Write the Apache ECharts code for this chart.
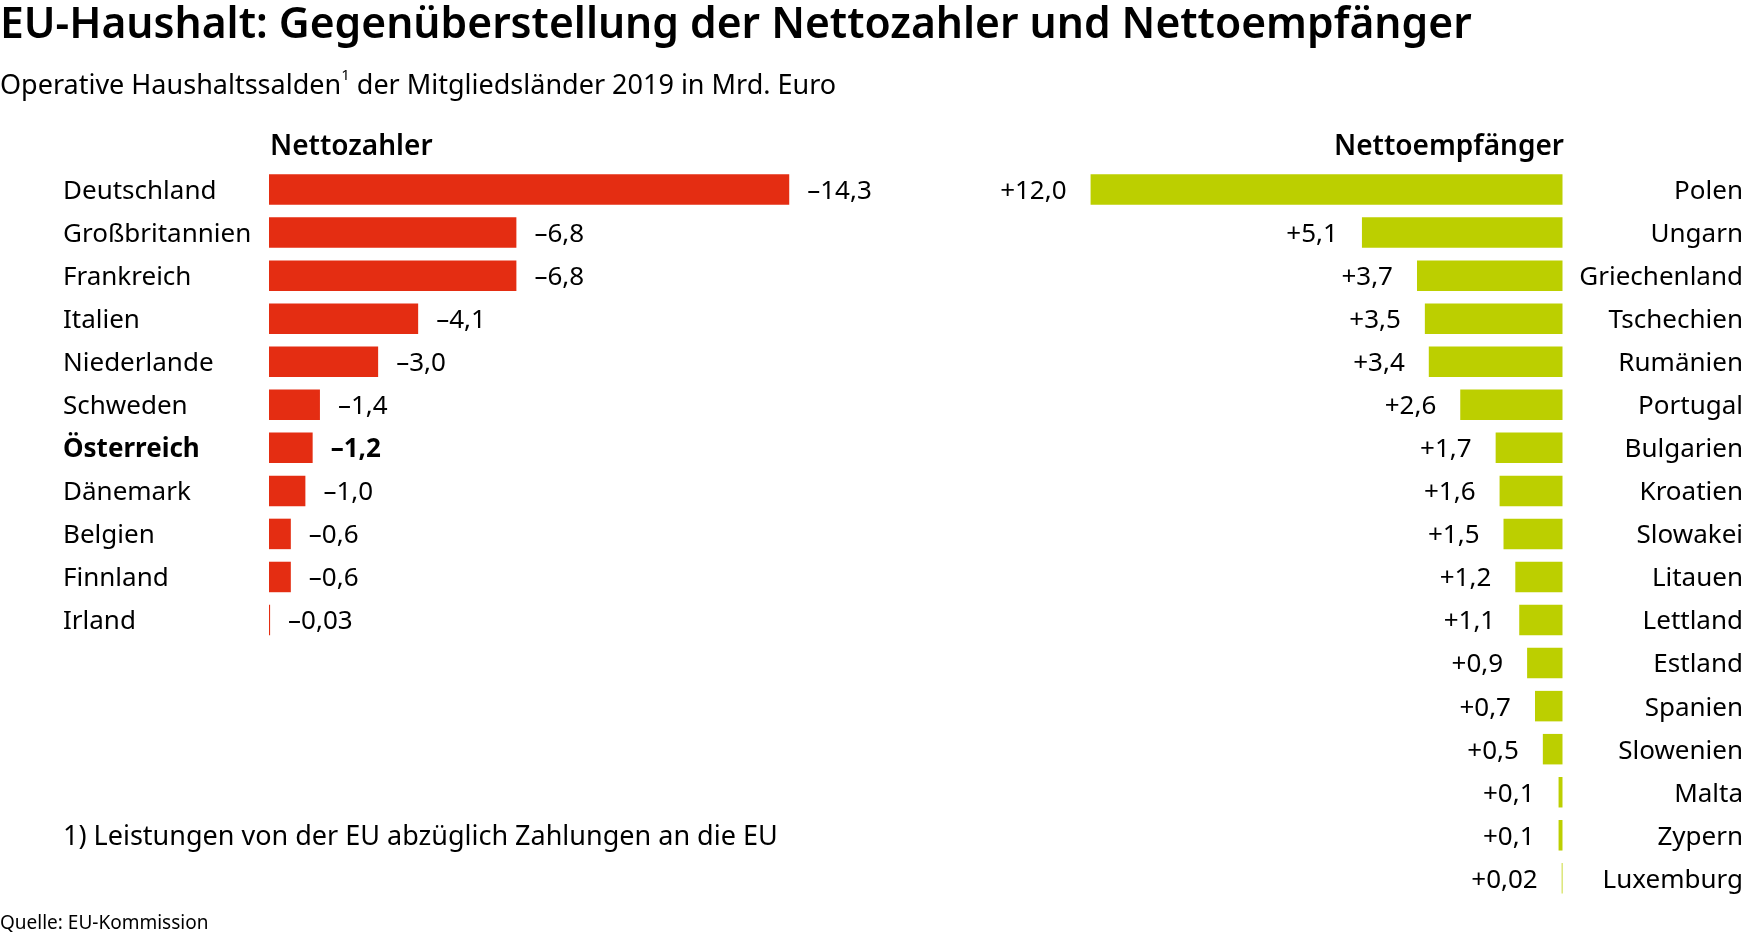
<!DOCTYPE html>
<html>
<head>
<meta charset="utf-8">
<script src="https://cdn.jsdelivr.net/npm/echarts@6/dist/echarts.min.js"></script>
<style>
html,body{margin:0;padding:0;background:#fff;}
#chart{width:1746px;height:938px;}
</style>
</head>
<body>
<div id="chart"></div>
<script>
const titleText = 'EU-Haushalt: Gegenüberstellung der Nettozahler und Nettoempfänger';
const subtitleMain = 'Operative Haushaltssalden';
const subtitleRest = ' der Mitgliedsländer 2019 in Mrd. Euro';
const headerLeft = 'Nettozahler';
const headerRight = 'Nettoempfänger';
const footnote = '1) Leistungen von der EU abzüglich Zahlungen an die EU';
const source = 'Quelle: EU-Kommission';

const payerCountries = ['Deutschland','Großbritannien','Frankreich','Italien','Niederlande','Schweden','Österreich','Dänemark','Belgien','Finnland','Irland'];
const payerValues = [-14.3,-6.8,-6.8,-4.1,-3.0,-1.4,-1.2,-1.0,-0.6,-0.6,-0.03];
const receiverCountries = ['Polen','Ungarn','Griechenland','Tschechien','Rumänien','Portugal','Bulgarien','Kroatien','Slowakei','Litauen','Lettland','Estland','Spanien','Slowenien','Malta','Zypern','Luxemburg'];
const receiverValues = [12.0,5.1,3.7,3.5,3.4,2.6,1.7,1.6,1.5,1.2,1.1,0.9,0.7,0.5,0.1,0.1,0.02];
const highlight = 'Österreich';

const FONT = '"Noto Sans"';
const RED = '#e42d12';
const GREEN = '#bccf00';

function fmt(v){
  const a = Math.abs(v);
  const d = a < 0.1 ? 2 : 1;
  return (v < 0 ? '\u2013' : '+') + a.toFixed(d).replace('.', ',');
}

const ROW = 43.05;
const TOP = 168;

const chart = echarts.init(document.getElementById('chart'));
chart.setOption({
  animation: false,
  textStyle: {fontFamily: FONT},
  grid: [
    {left: 269, top: TOP, width: 36.38 * 16, height: ROW * payerCountries.length},
    {left: 1564 - 39.42 * 16, top: TOP, width: 39.42 * 16, height: ROW * receiverCountries.length}
  ],
  xAxis: [
    {gridIndex: 0, type: 'value', min: -16, max: 0, inverse: true, show: false},
    {gridIndex: 1, type: 'value', min: 0, max: 16, inverse: true, show: false}
  ],
  yAxis: [
    {gridIndex: 0, type: 'category', data: payerCountries, inverse: true, position: 'left',
     axisLine: {show: false}, axisTick: {show: false}, splitLine: {show: false},
     axisLabel: {align: 'left', margin: 206, fontSize: 26, color: '#000', fontFamily: FONT, padding: [4, 0, 0, 0],
       formatter: v => v === highlight ? '{b|' + v + '}' : v,
       rich: {b: {fontWeight: 'bold', fontSize: 26, color: '#000', fontFamily: FONT}}}},
    {gridIndex: 1, type: 'category', data: receiverCountries, inverse: true, position: 'right',
     axisLine: {show: false}, axisTick: {show: false}, splitLine: {show: false},
     axisLabel: {align: 'right', margin: 180.5, fontSize: 26, color: '#000', fontFamily: FONT, padding: [4, 0, 0, 0],
       formatter: v => '{n|' + v + '}',
       rich: {n: {fontSize: 26, color: '#000', fontFamily: FONT}}}}
  ],
  series: [
    {type: 'bar', xAxisIndex: 0, yAxisIndex: 0, barWidth: 30.5,
     itemStyle: {color: RED},
     data: payerValues.map((v, i) => ({value: v,
       label: payerCountries[i] === highlight ? {fontWeight: 'bold'} : {}})),
     label: {show: true, position: 'right', distance: 18, offset: [0, 2], fontSize: 26, color: '#000', fontFamily: FONT,
       formatter: p => fmt(p.value)}},
    {type: 'bar', xAxisIndex: 1, yAxisIndex: 1, barWidth: 30.5,
     itemStyle: {color: GREEN},
     data: receiverValues,
     label: {show: true, position: 'left', distance: 24, offset: [0, 2], fontSize: 26, color: '#000', fontFamily: FONT,
       formatter: p => fmt(p.value)}}
  ],
  graphic: [
    {type: 'text', left: 0, top: 4, style: {text: titleText, font: '600 42.6px ' + FONT, fill: '#000'}},
    {type: 'text', left: 0, top: 68, style: {text: '{m|' + subtitleMain + '}{s|1}{m|' + subtitleRest + '}', fill: '#000',
      rich: {m: {fontSize: 27, fontFamily: FONT, lineHeight: 36}, s: {fontSize: 15, fontFamily: FONT, verticalAlign: 'top', lineHeight: 36}}}},
    {type: 'text', left: 270, top: 133, style: {text: headerLeft, font: '600 28px ' + FONT, fill: '#000'}},
    {type: 'text', right: 1746 - 1564, top: 133, style: {text: headerRight, font: '600 28px ' + FONT, fill: '#000'}},
    {type: 'text', left: 63, top: 824, style: {text: footnote, font: '27px ' + FONT, fill: '#000'}},
    {type: 'text', left: 0, top: 914, style: {text: source, font: '19px ' + FONT, fill: '#000'}}
  ]
});
</script>
</body>
</html>
